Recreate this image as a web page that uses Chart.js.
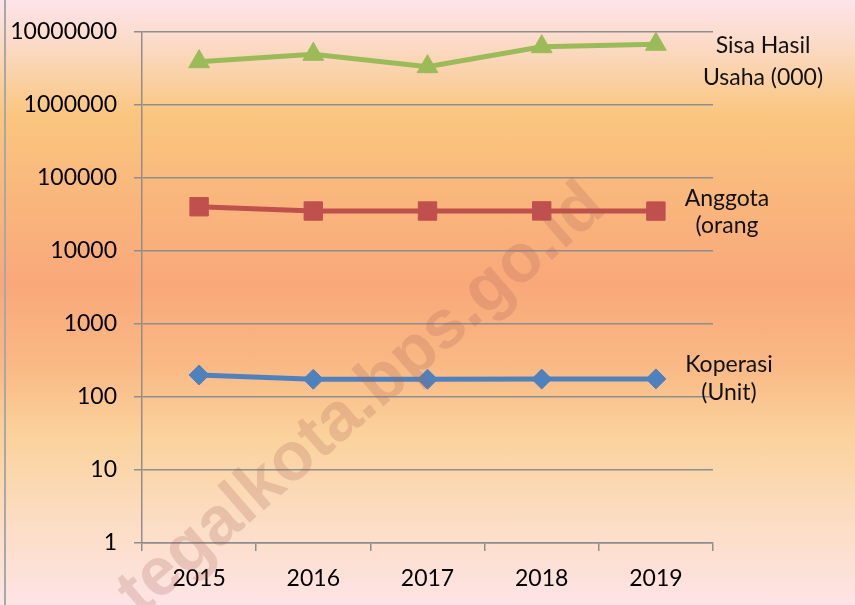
<!DOCTYPE html>
<html>
<head>
<meta charset="utf-8">
<script src="https://cdn.jsdelivr.net/npm/chart.js@4/dist/chart.umd.min.js"></script>
<style>
  html, body { margin: 0; padding: 0; }
  body {
    width: 855px; height: 605px; overflow: hidden;
    background: linear-gradient(to bottom,
      #fde4ea 0%, #fbd9c2 8%, #fac67f 19%, #f9b67c 33%, #f9a87a 47%,
      #f9b884 60%, #fbd29c 72%, #fcdcc0 85%, #fde4e6 100%);
  }
  canvas { display: block; }
</style>
</head>
<body>
<canvas id="c" width="855" height="605"></canvas>
<script>
// ---- data ----
const years = ["2015", "2016", "2017", "2018", "2019"];
const koperasi = [200, 175, 175, 176, 177];
const anggota = [40400, 35300, 35300, 35400, 35200];
const sisaHasilUsaha = [3920000, 4950000, 3350000, 6290000, 6790000];
const yTicks = [1, 10, 100, 1000, 10000, 100000, 1000000, 10000000];
const labelKoperasi = ["Koperasi", "(Unit)"];
const labelAnggota = ["Anggota", "(orang"];
const labelSisa = ["Sisa Hasil", "Usaha (000)"];
const watermark = "tegalkota.bps.go.id";

const FONT = "Lato, 'Open Sans', sans-serif";
const GRID = "#8e8e8e";

const overlay = {
  id: "overlay",
  beforeDraw(chart) {
    const ctx = chart.ctx;
    ctx.save();
    ctx.strokeStyle = "#a8a8a8";
    ctx.lineWidth = 2;
    ctx.beginPath();
    ctx.moveTo(5, 0);
    ctx.lineTo(5, chart.height);
    ctx.stroke();
    ctx.restore();
  },
  afterDraw(chart) {
    const ctx = chart.ctx;
    const ys = chart.scales.y;
    ctx.save();
    ctx.fillStyle = "#111";
    ctx.font = "23px " + FONT;
    ctx.textAlign = "center";
    ctx.textBaseline = "alphabetic";
    const groups = [
      { lines: labelSisa, data: sisaHasilUsaha, x: 763, d: [9, 41] },
      { lines: labelAnggota, data: anggota, x: 727, d: [-5, 22] },
      { lines: labelKoperasi, data: koperasi, x: 729, d: [-7, 21] }
    ];
    groups.forEach(g => {
      const py = ys.getPixelForValue(g.data[g.data.length - 1]);
      g.lines.forEach((t, i) => ctx.fillText(t, g.x, py + g.d[i]));
    });
    // watermark
    ctx.translate(362, 400);
    ctx.rotate(-41 * Math.PI / 180);
    ctx.font = "bold 68px 'Liberation Sans', Arial, sans-serif";
    ctx.fillStyle = "rgba(165, 95, 85, 0.22)";
    ctx.textAlign = "center";
    ctx.textBaseline = "middle";
    ctx.fillText(watermark, 0, 0);
    ctx.restore();
  }
};

new Chart(document.getElementById("c"), {
  type: "line",
  data: {
    labels: years,
    datasets: [
      {
        label: labelKoperasi.join(" "),
        data: koperasi,
        borderColor: "#4f81bd",
        backgroundColor: "#4f81bd",
        borderWidth: 5,
        pointStyle: "rectRot",
        pointRadius: 10,
        pointBorderWidth: 1,
        tension: 0
      },
      {
        label: labelAnggota.join(" "),
        data: anggota,
        borderColor: "#c0504d",
        backgroundColor: "#c0504d",
        borderWidth: 5,
        pointStyle: "rect",
        pointRadius: 13,
        pointBorderWidth: 1,
        tension: 0
      },
      {
        label: labelSisa.join(" "),
        data: sisaHasilUsaha,
        borderColor: "#9bbb59",
        backgroundColor: "#9bbb59",
        borderWidth: 5,
        pointStyle: "triangle",
        pointRadius: 12,
        pointBorderWidth: 1,
        tension: 0
      }
    ]
  },
  options: {
    responsive: false,
    devicePixelRatio: 1,
    animation: false,
    layout: { padding: { left: 0, right: 142, top: 32, bottom: 0 } },
    plugins: { legend: { display: false }, tooltip: { enabled: false } },
    scales: {
      x: {
        type: "category",
        offset: true,
        grid: {
          offset: true,
          drawOnChartArea: false,
          drawTicks: true,
          tickLength: 8,
          color: GRID,
          lineWidth: 1.5
        },
        border: { display: true, color: GRID, width: 1.5 },
        ticks: { color: "#000", font: { family: FONT, size: 23 }, padding: 14, maxRotation: 0 },
        afterFit(s) { s.height = 62; }
      },
      y: {
        type: "logarithmic",
        min: 1,
        max: 10000000,
        afterBuildTicks(s) { s.ticks = yTicks.map(v => ({ value: v })); },
        grid: { color: GRID, lineWidth: 1.5, tickLength: 8, drawTicks: true },
        border: { display: true, color: GRID, width: 1.5 },
        ticks: {
          color: "#000",
          font: { family: FONT, size: 23 },
          padding: 17,
          callback: v => String(v)
        },
        afterFit(s) { s.width = 142; }
      }
    }
  },
  plugins: [overlay]
});
</script>
</body>
</html>
